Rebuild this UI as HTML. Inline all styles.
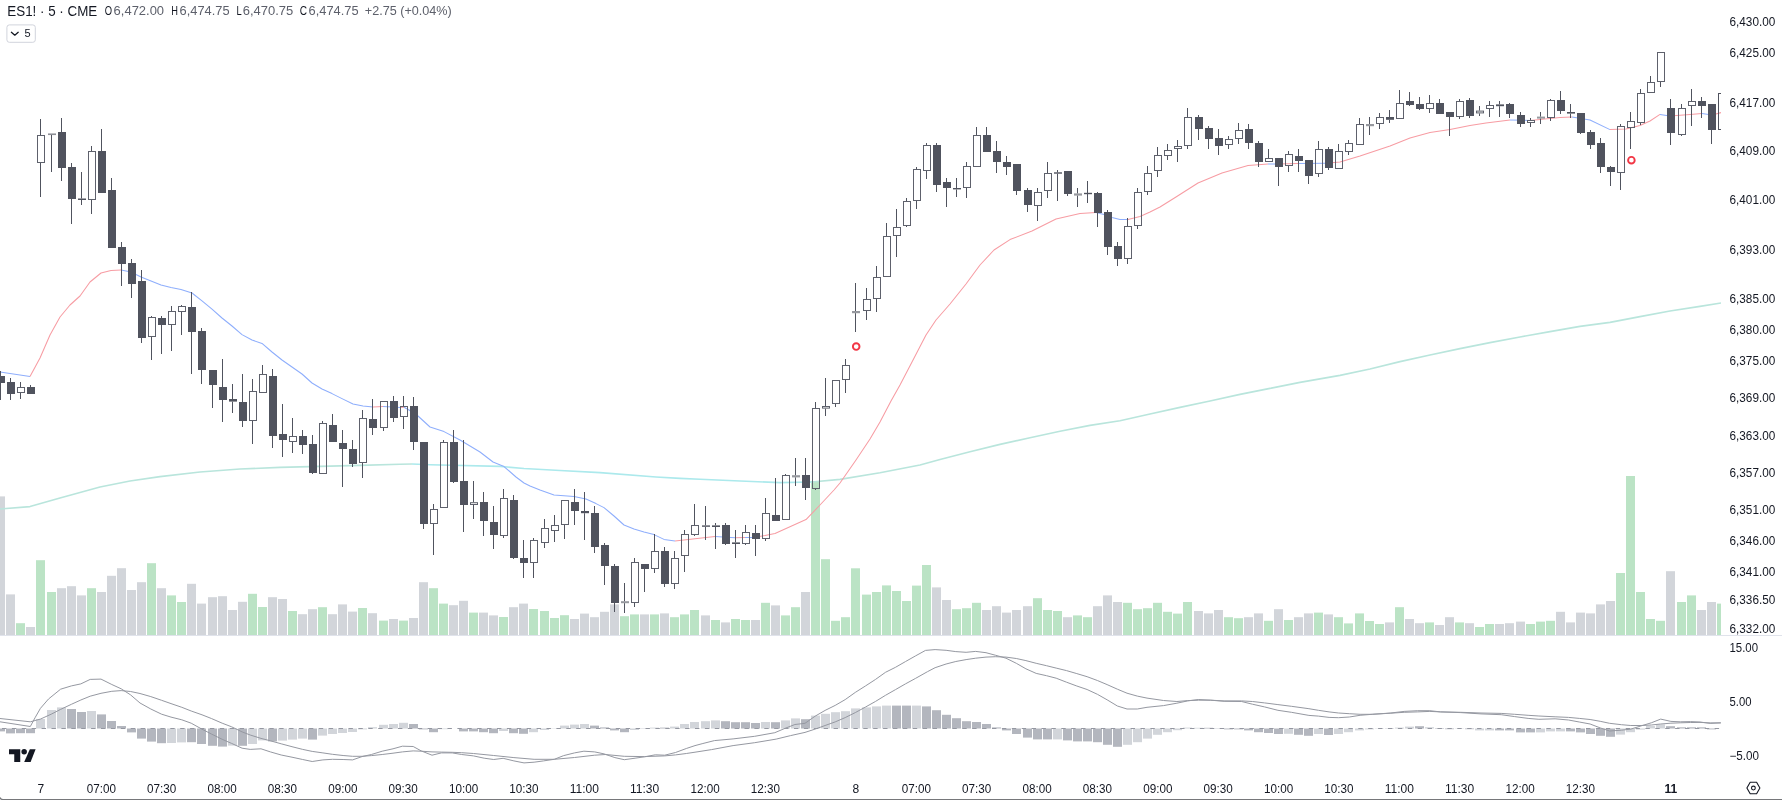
<!DOCTYPE html>
<html><head><meta charset="utf-8"><title>ES1! chart</title>
<style>html,body{margin:0;padding:0;background:#fff;overflow:hidden}svg{display:block;will-change:transform}</style></head>
<body>
<svg width="1782" height="800" viewBox="0 0 1782 800">
<defs><clipPath id="cp"><rect x="0" y="0" width="1721" height="800"/></clipPath></defs>
<rect width="1782" height="800" fill="#fff"/>
<g clip-path="url(#cp)">
<g>
<rect x="-4" y="496.4" width="9" height="138.8" fill="#d2d5da"/>
<rect x="6" y="594.4" width="9" height="40.8" fill="#d2d5da"/>
<rect x="16" y="623.2" width="9" height="12" fill="#bbe3c5"/>
<rect x="26" y="627" width="9" height="8.2" fill="#d2d5da"/>
<rect x="36" y="560.2" width="9" height="75" fill="#bbe3c5"/>
<rect x="47" y="592" width="9" height="43.2" fill="#bbe3c5"/>
<rect x="57" y="588.2" width="9" height="47" fill="#d2d5da"/>
<rect x="67" y="586.2" width="9" height="49" fill="#d2d5da"/>
<rect x="77" y="595.4" width="9" height="39.8" fill="#d2d5da"/>
<rect x="87" y="588.2" width="9" height="47" fill="#bbe3c5"/>
<rect x="97" y="592" width="9" height="43.2" fill="#d2d5da"/>
<rect x="107" y="575.8" width="9" height="59.4" fill="#d2d5da"/>
<rect x="117" y="568.2" width="9" height="67" fill="#d2d5da"/>
<rect x="127" y="590" width="9" height="45.2" fill="#d2d5da"/>
<rect x="137" y="582.2" width="9" height="53" fill="#d2d5da"/>
<rect x="147" y="563.2" width="9" height="72" fill="#bbe3c5"/>
<rect x="157" y="588.2" width="9" height="47" fill="#d2d5da"/>
<rect x="167" y="595.4" width="9" height="39.8" fill="#bbe3c5"/>
<rect x="177" y="602" width="9" height="33.2" fill="#bbe3c5"/>
<rect x="187" y="583.8" width="9" height="51.4" fill="#d2d5da"/>
<rect x="197" y="603.6" width="9" height="31.6" fill="#d2d5da"/>
<rect x="208" y="597.2" width="9" height="38" fill="#d2d5da"/>
<rect x="218" y="596.2" width="9" height="39" fill="#d2d5da"/>
<rect x="228" y="610" width="9" height="25.2" fill="#d2d5da"/>
<rect x="238" y="601.8" width="9" height="33.4" fill="#d2d5da"/>
<rect x="248" y="593.8" width="9" height="41.4" fill="#bbe3c5"/>
<rect x="258" y="607" width="9" height="28.2" fill="#bbe3c5"/>
<rect x="268" y="597.2" width="9" height="38" fill="#d2d5da"/>
<rect x="278" y="599" width="9" height="36.2" fill="#d2d5da"/>
<rect x="288" y="611" width="9" height="24.2" fill="#bbe3c5"/>
<rect x="298" y="614.2" width="9" height="21" fill="#d2d5da"/>
<rect x="308" y="609.2" width="9" height="26" fill="#d2d5da"/>
<rect x="318" y="607.2" width="9" height="28" fill="#bbe3c5"/>
<rect x="328" y="614.2" width="9" height="21" fill="#d2d5da"/>
<rect x="338" y="604.4" width="9" height="30.8" fill="#d2d5da"/>
<rect x="348" y="611.6" width="9" height="23.6" fill="#d2d5da"/>
<rect x="358" y="608" width="9" height="27.2" fill="#bbe3c5"/>
<rect x="368" y="613.2" width="9" height="22" fill="#d2d5da"/>
<rect x="379" y="620.6" width="9" height="14.6" fill="#bbe3c5"/>
<rect x="389" y="619" width="9" height="16.2" fill="#d2d5da"/>
<rect x="399" y="620.6" width="9" height="14.6" fill="#bbe3c5"/>
<rect x="409" y="618" width="9" height="17.2" fill="#d2d5da"/>
<rect x="419" y="582.2" width="9" height="53" fill="#d2d5da"/>
<rect x="429" y="588.2" width="9" height="47" fill="#bbe3c5"/>
<rect x="439" y="603.6" width="9" height="31.6" fill="#bbe3c5"/>
<rect x="449" y="605.2" width="9" height="30" fill="#d2d5da"/>
<rect x="459" y="600.8" width="9" height="34.4" fill="#d2d5da"/>
<rect x="469" y="612.6" width="9" height="22.6" fill="#bbe3c5"/>
<rect x="479" y="612.6" width="9" height="22.6" fill="#d2d5da"/>
<rect x="489" y="615.4" width="9" height="19.8" fill="#d2d5da"/>
<rect x="499" y="617" width="9" height="18.2" fill="#bbe3c5"/>
<rect x="509" y="607.2" width="9" height="28" fill="#d2d5da"/>
<rect x="519" y="603.6" width="9" height="31.6" fill="#d2d5da"/>
<rect x="529" y="609" width="9" height="26.2" fill="#bbe3c5"/>
<rect x="540" y="611" width="9" height="24.2" fill="#bbe3c5"/>
<rect x="550" y="618" width="9" height="17.2" fill="#bbe3c5"/>
<rect x="560" y="615.2" width="9" height="20" fill="#bbe3c5"/>
<rect x="570" y="619" width="9" height="16.2" fill="#d2d5da"/>
<rect x="580" y="613.6" width="9" height="21.6" fill="#d2d5da"/>
<rect x="590" y="617.2" width="9" height="18" fill="#d2d5da"/>
<rect x="600" y="611.8" width="9" height="23.4" fill="#d2d5da"/>
<rect x="610" y="604.4" width="9" height="30.8" fill="#d2d5da"/>
<rect x="620" y="616.2" width="9" height="19" fill="#bbe3c5"/>
<rect x="630" y="614.4" width="9" height="20.8" fill="#bbe3c5"/>
<rect x="640" y="614.4" width="9" height="20.8" fill="#d2d5da"/>
<rect x="650" y="614.4" width="9" height="20.8" fill="#bbe3c5"/>
<rect x="660" y="613.4" width="9" height="21.8" fill="#d2d5da"/>
<rect x="670" y="617.2" width="9" height="18" fill="#bbe3c5"/>
<rect x="680" y="614.4" width="9" height="20.8" fill="#bbe3c5"/>
<rect x="690" y="610" width="9" height="25.2" fill="#bbe3c5"/>
<rect x="701" y="615.4" width="9" height="19.8" fill="#d2d5da"/>
<rect x="711" y="620" width="9" height="15.2" fill="#bbe3c5"/>
<rect x="721" y="622.4" width="9" height="12.8" fill="#d2d5da"/>
<rect x="731" y="619" width="9" height="16.2" fill="#bbe3c5"/>
<rect x="741" y="620" width="9" height="15.2" fill="#bbe3c5"/>
<rect x="751" y="620" width="9" height="15.2" fill="#d2d5da"/>
<rect x="761" y="602.8" width="9" height="32.4" fill="#bbe3c5"/>
<rect x="771" y="605.4" width="9" height="29.8" fill="#d2d5da"/>
<rect x="781" y="615.4" width="9" height="19.8" fill="#bbe3c5"/>
<rect x="791" y="607.2" width="9" height="28" fill="#bbe3c5"/>
<rect x="801" y="592" width="9" height="43.2" fill="#d2d5da"/>
<rect x="811" y="481" width="9" height="154.2" fill="#bbe3c5"/>
<rect x="821" y="559.2" width="9" height="76" fill="#bbe3c5"/>
<rect x="831" y="620.8" width="9" height="14.4" fill="#bbe3c5"/>
<rect x="841" y="617.2" width="9" height="18" fill="#bbe3c5"/>
<rect x="851" y="568.3" width="9" height="66.9" fill="#bbe3c5"/>
<rect x="862" y="594.6" width="9" height="40.6" fill="#bbe3c5"/>
<rect x="872" y="592" width="9" height="43.2" fill="#bbe3c5"/>
<rect x="882" y="585.4" width="9" height="49.8" fill="#bbe3c5"/>
<rect x="892" y="591" width="9" height="44.2" fill="#bbe3c5"/>
<rect x="902" y="601" width="9" height="34.2" fill="#bbe3c5"/>
<rect x="912" y="585.6" width="9" height="49.6" fill="#bbe3c5"/>
<rect x="922" y="565" width="9" height="70.2" fill="#bbe3c5"/>
<rect x="932" y="587.4" width="9" height="47.8" fill="#d2d5da"/>
<rect x="942" y="600" width="9" height="35.2" fill="#d2d5da"/>
<rect x="952" y="609.2" width="9" height="26" fill="#bbe3c5"/>
<rect x="962" y="608.2" width="9" height="27" fill="#bbe3c5"/>
<rect x="972" y="602.8" width="9" height="32.4" fill="#bbe3c5"/>
<rect x="982" y="610" width="9" height="25.2" fill="#d2d5da"/>
<rect x="992" y="606.2" width="9" height="29" fill="#d2d5da"/>
<rect x="1002" y="612.6" width="9" height="22.6" fill="#d2d5da"/>
<rect x="1012" y="610" width="9" height="25.2" fill="#d2d5da"/>
<rect x="1023" y="606.2" width="9" height="29" fill="#d2d5da"/>
<rect x="1033" y="598.2" width="9" height="37" fill="#bbe3c5"/>
<rect x="1043" y="610" width="9" height="25.2" fill="#bbe3c5"/>
<rect x="1053" y="611" width="9" height="24.2" fill="#bbe3c5"/>
<rect x="1063" y="617.2" width="9" height="18" fill="#d2d5da"/>
<rect x="1073" y="615.4" width="9" height="19.8" fill="#bbe3c5"/>
<rect x="1083" y="617.2" width="9" height="18" fill="#bbe3c5"/>
<rect x="1093" y="606.2" width="9" height="29" fill="#d2d5da"/>
<rect x="1103" y="595.4" width="9" height="39.8" fill="#d2d5da"/>
<rect x="1113" y="602" width="9" height="33.2" fill="#d2d5da"/>
<rect x="1123" y="602.8" width="9" height="32.4" fill="#bbe3c5"/>
<rect x="1133" y="609.2" width="9" height="26" fill="#bbe3c5"/>
<rect x="1143" y="608.2" width="9" height="27" fill="#bbe3c5"/>
<rect x="1153" y="602.8" width="9" height="32.4" fill="#bbe3c5"/>
<rect x="1163" y="611.8" width="9" height="23.4" fill="#bbe3c5"/>
<rect x="1173" y="613.6" width="9" height="21.6" fill="#bbe3c5"/>
<rect x="1183" y="602" width="9" height="33.2" fill="#bbe3c5"/>
<rect x="1194" y="611" width="9" height="24.2" fill="#d2d5da"/>
<rect x="1204" y="613.4" width="9" height="21.8" fill="#d2d5da"/>
<rect x="1214" y="610" width="9" height="25.2" fill="#d2d5da"/>
<rect x="1224" y="617.2" width="9" height="18" fill="#bbe3c5"/>
<rect x="1234" y="618.2" width="9" height="17" fill="#bbe3c5"/>
<rect x="1244" y="617.2" width="9" height="18" fill="#d2d5da"/>
<rect x="1254" y="613.4" width="9" height="21.8" fill="#d2d5da"/>
<rect x="1264" y="620.8" width="9" height="14.4" fill="#bbe3c5"/>
<rect x="1274" y="609.2" width="9" height="26" fill="#d2d5da"/>
<rect x="1284" y="620" width="9" height="15.2" fill="#bbe3c5"/>
<rect x="1294" y="617.2" width="9" height="18" fill="#d2d5da"/>
<rect x="1304" y="613.4" width="9" height="21.8" fill="#d2d5da"/>
<rect x="1314" y="612.6" width="9" height="22.6" fill="#bbe3c5"/>
<rect x="1324" y="614.4" width="9" height="20.8" fill="#d2d5da"/>
<rect x="1334" y="617.2" width="9" height="18" fill="#bbe3c5"/>
<rect x="1344" y="623.4" width="9" height="11.8" fill="#bbe3c5"/>
<rect x="1355" y="613.4" width="9" height="21.8" fill="#bbe3c5"/>
<rect x="1365" y="621" width="9" height="14.2" fill="#bbe3c5"/>
<rect x="1375" y="624" width="9" height="11.2" fill="#bbe3c5"/>
<rect x="1385" y="622.4" width="9" height="12.8" fill="#d2d5da"/>
<rect x="1395" y="607.2" width="9" height="28" fill="#bbe3c5"/>
<rect x="1405" y="619" width="9" height="16.2" fill="#d2d5da"/>
<rect x="1415" y="623.2" width="9" height="12" fill="#d2d5da"/>
<rect x="1425" y="622.4" width="9" height="12.8" fill="#bbe3c5"/>
<rect x="1435" y="625" width="9" height="10.2" fill="#d2d5da"/>
<rect x="1445" y="617.2" width="9" height="18" fill="#d2d5da"/>
<rect x="1455" y="622.4" width="9" height="12.8" fill="#bbe3c5"/>
<rect x="1465" y="623.2" width="9" height="12" fill="#d2d5da"/>
<rect x="1475" y="627" width="9" height="8.2" fill="#bbe3c5"/>
<rect x="1485" y="624" width="9" height="11.2" fill="#bbe3c5"/>
<rect x="1495" y="624" width="9" height="11.2" fill="#d2d5da"/>
<rect x="1505" y="623.2" width="9" height="12" fill="#d2d5da"/>
<rect x="1516" y="621.6" width="9" height="13.6" fill="#d2d5da"/>
<rect x="1526" y="624" width="9" height="11.2" fill="#bbe3c5"/>
<rect x="1536" y="621.6" width="9" height="13.6" fill="#bbe3c5"/>
<rect x="1546" y="620.8" width="9" height="14.4" fill="#bbe3c5"/>
<rect x="1556" y="611.8" width="9" height="23.4" fill="#d2d5da"/>
<rect x="1566" y="622.4" width="9" height="12.8" fill="#d2d5da"/>
<rect x="1576" y="612.6" width="9" height="22.6" fill="#d2d5da"/>
<rect x="1586" y="613.4" width="9" height="21.8" fill="#d2d5da"/>
<rect x="1596" y="604.4" width="9" height="30.8" fill="#d2d5da"/>
<rect x="1606" y="601" width="9" height="34.2" fill="#d2d5da"/>
<rect x="1616" y="573" width="9" height="62.2" fill="#bbe3c5"/>
<rect x="1626" y="476" width="9" height="159.2" fill="#bbe3c5"/>
<rect x="1636" y="592" width="9" height="43.2" fill="#bbe3c5"/>
<rect x="1646" y="619" width="9" height="16.2" fill="#bbe3c5"/>
<rect x="1656" y="620.8" width="9" height="14.4" fill="#bbe3c5"/>
<rect x="1666" y="571.2" width="9" height="64" fill="#d2d5da"/>
<rect x="1677" y="602" width="9" height="33.2" fill="#bbe3c5"/>
<rect x="1687" y="595.4" width="9" height="39.8" fill="#bbe3c5"/>
<rect x="1697" y="610" width="9" height="25.2" fill="#d2d5da"/>
<rect x="1707" y="602" width="9" height="33.2" fill="#d2d5da"/>
<rect x="1717" y="603.6" width="9" height="31.6" fill="#bbe3c5"/>
</g>
<polyline fill="none" stroke="#b9e5dc" stroke-width="1.6" stroke-linejoin="round" points="0,509 30,506.6 60,498 100,487 130,481 160,476.6 200,472 240,469 280,467.4 320,466.4 360,465.4 400,464.2 412,464"/>
<polyline fill="none" stroke="#ace9ec" stroke-width="1.6" stroke-linejoin="round" points="412,464 430,464.8 500,466.4 524,468.5 560,470.5 600,472.6 656,477 680,478.4 700,479.2 740,481 780,482.6 812,482"/>
<polyline fill="none" stroke="#b9e5dc" stroke-width="1.6" stroke-linejoin="round" points="812,482 840,479.4 880,472.8 920,465 940,459.6 970,451.8 1000,444.4 1030,437.8 1060,431.2 1090,425.4 1120,420.8 1150,414 1180,407.4 1210,401 1240,394.4 1270,388.4 1300,382.4 1340,375.4 1370,369 1400,361.6 1430,355 1460,348.6 1490,342.6 1520,337 1550,331.6 1580,326.4 1610,322.4 1640,316.6 1670,311 1700,306.4 1721,303"/>
<polyline fill="none" stroke="#8eaefc" stroke-width="1.05" stroke-linejoin="round" points="0,372 30,376.6"/>
<polyline fill="none" stroke="#f79ca3" stroke-width="1.05" stroke-linejoin="round" points="30,376.6 40,358 50,335 60,317 70,305 80,296 90,282 101,273 111,270.6 121,270"/>
<polyline fill="none" stroke="#8eaefc" stroke-width="1.05" stroke-linejoin="round" points="121,270 131,272 141,277 151,281 161,285 171,287.4 181,289.4 192,293 202,300.9 212,309.2 222,318 232,326 242,334.6 252,340 262,343.4 272,352 282,360 292,367 302,374 312,383 322,389 332,393.6 342,398.6 353,404 363,406 373,407"/>
<polyline fill="none" stroke="#f79ca3" stroke-width="1.05" stroke-linejoin="round" points="373,407 383,406.6"/>
<polyline fill="none" stroke="#8eaefc" stroke-width="1.05" stroke-linejoin="round" points="383,406.6 393,407 400,407.4"/>
<polyline fill="none" stroke="#f79ca3" stroke-width="1.05" stroke-linejoin="round" points="400,407.4 404,407.2"/>
<polyline fill="none" stroke="#8eaefc" stroke-width="1.05" stroke-linejoin="round" points="404,407.2 409,410 418,416 430,427 444,431.6 460,440 480,452 493,462 504,466.6 516,477 524,483 530,486 540,490 554,495 574,496.5 586,499 596,503.6 604,507.6 614,516 624,525 634,529 644,532 654,534.6 664,539.4 675,541"/>
<polyline fill="none" stroke="#f79ca3" stroke-width="1.05" stroke-linejoin="round" points="675,541 695,538.8 715,536.5"/>
<polyline fill="none" stroke="#8eaefc" stroke-width="1.05" stroke-linejoin="round" points="715,536.5 735,537.8"/>
<polyline fill="none" stroke="#f79ca3" stroke-width="1.05" stroke-linejoin="round" points="735,537.8 745,537.4"/>
<polyline fill="none" stroke="#8eaefc" stroke-width="1.05" stroke-linejoin="round" points="745,537.4 752,537.6"/>
<polyline fill="none" stroke="#f79ca3" stroke-width="1.05" stroke-linejoin="round" points="752,537.6 765,535.5 775,533.5 806,519.6 820,505 834,490 840,483 856,460 870,439 880,422 891,401 900,385 912,362 926,335 936,320 950,304 966,284 980,265 994,250 1010,239.6 1032,231 1056,219 1080,213.6 1096,212.4"/>
<polyline fill="none" stroke="#8eaefc" stroke-width="1.05" stroke-linejoin="round" points="1096,212.4 1106,215 1112,217.6 1120,219.4 1128,219.4"/>
<polyline fill="none" stroke="#f79ca3" stroke-width="1.05" stroke-linejoin="round" points="1128,219.4 1140,216.4 1150,212 1160,207 1176,197 1198,183 1222,173 1248,165.6 1268,164"/>
<polyline fill="none" stroke="#8eaefc" stroke-width="1.05" stroke-linejoin="round" points="1268,164 1278,164"/>
<polyline fill="none" stroke="#f79ca3" stroke-width="1.05" stroke-linejoin="round" points="1278,164 1298,163.6"/>
<polyline fill="none" stroke="#8eaefc" stroke-width="1.05" stroke-linejoin="round" points="1298,163.6 1326,163.2"/>
<polyline fill="none" stroke="#f79ca3" stroke-width="1.05" stroke-linejoin="round" points="1326,163.2 1340,162 1360,156 1390,146 1410,138 1430,132.4 1450,129.5 1470,125.5 1486,123 1510,120"/>
<polyline fill="none" stroke="#8eaefc" stroke-width="1.05" stroke-linejoin="round" points="1510,120 1530,120.4"/>
<polyline fill="none" stroke="#f79ca3" stroke-width="1.05" stroke-linejoin="round" points="1530,120.4 1540,119.6 1560,117.6 1572,117"/>
<polyline fill="none" stroke="#8eaefc" stroke-width="1.05" stroke-linejoin="round" points="1572,117 1590,120 1610,129.6"/>
<polyline fill="none" stroke="#f79ca3" stroke-width="1.05" stroke-linejoin="round" points="1610,129.6 1626,129 1640,125.6 1650,121 1660,114.4"/>
<polyline fill="none" stroke="#8eaefc" stroke-width="1.05" stroke-linejoin="round" points="1660,114.4 1670,116"/>
<polyline fill="none" stroke="#f79ca3" stroke-width="1.05" stroke-linejoin="round" points="1670,116 1690,114.4 1702,113.4"/>
<polyline fill="none" stroke="#8eaefc" stroke-width="1.05" stroke-linejoin="round" points="1702,113.4 1712,115"/>
<polyline fill="none" stroke="#f79ca3" stroke-width="1.05" stroke-linejoin="round" points="1712,115 1721,112.6"/>
<g stroke="#50535e" stroke-width="1" fill="none">
<path d="M0.5 371V376"/>
<path d="M0.5 383V400"/>
<rect x="-3" y="376" width="8" height="7" fill="#50535e" stroke="none"/>
<path d="M10.5 378V382"/>
<path d="M10.5 394V400"/>
<rect x="7" y="382" width="8" height="12" fill="#50535e" stroke="none"/>
<path d="M20.5 382V387"/>
<path d="M20.5 393V399"/>
<rect x="17.5" y="387.5" width="7" height="5" stroke="#5e616c"/>
<path d="M30.5 385V387"/>
<rect x="27" y="387" width="8" height="7" fill="#50535e" stroke="none"/>
<path d="M40.5 119V135"/>
<path d="M40.5 163V197"/>
<rect x="37.5" y="135.5" width="7" height="27" stroke="#5e616c"/>
<path d="M51.5 135V172"/>
<rect x="48" y="133.45" width="8" height="1.6" fill="#50535e" stroke="none" opacity="0.65"/>
<path d="M61.5 118V132"/>
<path d="M61.5 168V181"/>
<rect x="58" y="132" width="8" height="36" fill="#50535e" stroke="none"/>
<path d="M71.5 163V167"/>
<path d="M71.5 199V224"/>
<rect x="68" y="167" width="8" height="32" fill="#50535e" stroke="none"/>
<path d="M81.5 172V198.5"/>
<path d="M81.5 200V205"/>
<rect x="78" y="198.5" width="8" height="1.5" fill="#50535e" stroke="none"/>
<path d="M91.5 146V151"/>
<path d="M91.5 200V214"/>
<rect x="88.5" y="151.5" width="7" height="48" stroke="#5e616c"/>
<path d="M101.5 129V151"/>
<rect x="98" y="151" width="8" height="42" fill="#50535e" stroke="none"/>
<path d="M111.5 178V190"/>
<rect x="108" y="190" width="8" height="58" fill="#50535e" stroke="none"/>
<path d="M121.5 242V247"/>
<path d="M121.5 264V286"/>
<rect x="118" y="247" width="8" height="17" fill="#50535e" stroke="none"/>
<path d="M131.5 259V263"/>
<path d="M131.5 284V298"/>
<rect x="128" y="263" width="8" height="21" fill="#50535e" stroke="none"/>
<path d="M141.5 270V281"/>
<path d="M141.5 338V343"/>
<rect x="138" y="281" width="8" height="57" fill="#50535e" stroke="none"/>
<path d="M151.5 316V317"/>
<path d="M151.5 337V360"/>
<rect x="148.5" y="317.5" width="7" height="19" stroke="#5e616c"/>
<path d="M161.5 316V318"/>
<path d="M161.5 325V354"/>
<rect x="158" y="318" width="8" height="7" fill="#50535e" stroke="none"/>
<path d="M171.5 306V311"/>
<path d="M171.5 325V351"/>
<rect x="168.5" y="311.5" width="7" height="13" stroke="#5e616c"/>
<path d="M181.5 305V306"/>
<path d="M181.5 312V335"/>
<rect x="178.5" y="306.5" width="7" height="5" stroke="#5e616c"/>
<path d="M191.5 292V307"/>
<path d="M191.5 332V374"/>
<rect x="188" y="307" width="8" height="25" fill="#50535e" stroke="none"/>
<path d="M201.5 328V331"/>
<path d="M201.5 370V384"/>
<rect x="198" y="331" width="8" height="39" fill="#50535e" stroke="none"/>
<path d="M212.5 385V408"/>
<rect x="209" y="370" width="8" height="15" fill="#50535e" stroke="none"/>
<path d="M222.5 359V387"/>
<path d="M222.5 400V422"/>
<rect x="219" y="387" width="8" height="13" fill="#50535e" stroke="none"/>
<path d="M232.5 384V399"/>
<path d="M232.5 401.6V413"/>
<rect x="229" y="399" width="8" height="2.6" fill="#50535e" stroke="none"/>
<path d="M242.5 374V402"/>
<path d="M242.5 421V427"/>
<rect x="239" y="402" width="8" height="19" fill="#50535e" stroke="none"/>
<path d="M252.5 379V391"/>
<path d="M252.5 421V444"/>
<rect x="249.5" y="391.5" width="7" height="29" stroke="#5e616c"/>
<path d="M262.5 365V374"/>
<rect x="259.5" y="374.5" width="7" height="18" stroke="#5e616c"/>
<path d="M272.5 369V376"/>
<path d="M272.5 436V448"/>
<rect x="269" y="376" width="8" height="60" fill="#50535e" stroke="none"/>
<path d="M282.5 404V434"/>
<path d="M282.5 440V457"/>
<rect x="279" y="434" width="8" height="6" fill="#50535e" stroke="none"/>
<path d="M292.5 418V436"/>
<path d="M292.5 442V453"/>
<rect x="289.5" y="436.5" width="7" height="5" stroke="#5e616c"/>
<path d="M302.5 430V436"/>
<path d="M302.5 445V454"/>
<rect x="299" y="436" width="8" height="9" fill="#50535e" stroke="none"/>
<path d="M312.5 435V444"/>
<path d="M312.5 473V474"/>
<rect x="309" y="444" width="8" height="29" fill="#50535e" stroke="none"/>
<path d="M322.5 421V423"/>
<rect x="319.5" y="423.5" width="7" height="50" stroke="#5e616c"/>
<path d="M332.5 414V425"/>
<rect x="329" y="425" width="8" height="17" fill="#50535e" stroke="none"/>
<path d="M342.5 430V443"/>
<path d="M342.5 449V487"/>
<rect x="339" y="443" width="8" height="6" fill="#50535e" stroke="none"/>
<path d="M352.5 440V449"/>
<path d="M352.5 464V467"/>
<rect x="349" y="449" width="8" height="15" fill="#50535e" stroke="none"/>
<path d="M362.5 410V418"/>
<path d="M362.5 463V478"/>
<rect x="359.5" y="418.5" width="7" height="44" stroke="#5e616c"/>
<path d="M372.5 399V419"/>
<path d="M372.5 428V435"/>
<rect x="369" y="419" width="8" height="9" fill="#50535e" stroke="none"/>
<path d="M383.5 428V431"/>
<rect x="380.5" y="401.5" width="7" height="26" stroke="#5e616c"/>
<path d="M393.5 396V401"/>
<path d="M393.5 418V422"/>
<rect x="390" y="401" width="8" height="17" fill="#50535e" stroke="none"/>
<path d="M403.5 396V406"/>
<path d="M403.5 417V429"/>
<rect x="400.5" y="406.5" width="7" height="10" stroke="#5e616c"/>
<path d="M413.5 397V406"/>
<path d="M413.5 442V450"/>
<rect x="410" y="406" width="8" height="36" fill="#50535e" stroke="none"/>
<path d="M423.5 524V529"/>
<rect x="420" y="442" width="8" height="82" fill="#50535e" stroke="none"/>
<path d="M433.5 504V509"/>
<path d="M433.5 524V555"/>
<rect x="430.5" y="509.5" width="7" height="14" stroke="#5e616c"/>
<path d="M443.5 440V442"/>
<rect x="440.5" y="442.5" width="7" height="65" stroke="#5e616c"/>
<path d="M453.5 430V442"/>
<path d="M453.5 482V483"/>
<rect x="450" y="442" width="8" height="40" fill="#50535e" stroke="none"/>
<path d="M463.5 440V481"/>
<path d="M463.5 505V532"/>
<rect x="460" y="481" width="8" height="24" fill="#50535e" stroke="none"/>
<path d="M473.5 481V502.2"/>
<path d="M473.5 505V519"/>
<rect x="470.5" y="502.7" width="7" height="1.8" stroke="#5e616c"/>
<path d="M483.5 492V502"/>
<path d="M483.5 521V536"/>
<rect x="480" y="502" width="8" height="19" fill="#50535e" stroke="none"/>
<path d="M493.5 506V522"/>
<path d="M493.5 535V549"/>
<rect x="490" y="522" width="8" height="13" fill="#50535e" stroke="none"/>
<path d="M503.5 489V498"/>
<path d="M503.5 536V538"/>
<rect x="500.5" y="498.5" width="7" height="37" stroke="#5e616c"/>
<path d="M513.5 495V500"/>
<path d="M513.5 558V559"/>
<rect x="510" y="500" width="8" height="58" fill="#50535e" stroke="none"/>
<path d="M523.5 540V558"/>
<path d="M523.5 563V578"/>
<rect x="520" y="558" width="8" height="5" fill="#50535e" stroke="none"/>
<path d="M533.5 538V540"/>
<path d="M533.5 563V578"/>
<rect x="530.5" y="540.5" width="7" height="22" stroke="#5e616c"/>
<path d="M544.5 519V528"/>
<path d="M544.5 543V548"/>
<rect x="541.5" y="528.5" width="7" height="14" stroke="#5e616c"/>
<path d="M554.5 515V525"/>
<path d="M554.5 531V542"/>
<rect x="551.5" y="525.5" width="7" height="5" stroke="#5e616c"/>
<path d="M564.5 525V539"/>
<rect x="561.5" y="500.5" width="7" height="24" stroke="#5e616c"/>
<path d="M574.5 489V502"/>
<path d="M574.5 511V525"/>
<rect x="571" y="502" width="8" height="9" fill="#50535e" stroke="none"/>
<path d="M584.5 492V511"/>
<path d="M584.5 513.2V540"/>
<rect x="581" y="511" width="8" height="2.2" fill="#50535e" stroke="none"/>
<path d="M594.5 506V513"/>
<path d="M594.5 547V553"/>
<rect x="591" y="513" width="8" height="34" fill="#50535e" stroke="none"/>
<path d="M604.5 543V545"/>
<path d="M604.5 566V585"/>
<rect x="601" y="545" width="8" height="21" fill="#50535e" stroke="none"/>
<path d="M614.5 564V566"/>
<path d="M614.5 603V612"/>
<rect x="611" y="566" width="8" height="37" fill="#50535e" stroke="none"/>
<path d="M624.5 583V601.2"/>
<path d="M624.5 603.2V613"/>
<rect x="621" y="601.2" width="8" height="2" fill="#50535e" stroke="none" opacity="0.6"/>
<path d="M634.5 558V562"/>
<path d="M634.5 603V607"/>
<rect x="631.5" y="562.5" width="7" height="40" stroke="#5e616c"/>
<path d="M644.5 569V592"/>
<rect x="641" y="564" width="8" height="5" fill="#50535e" stroke="none"/>
<path d="M654.5 534V551"/>
<path d="M654.5 569V573"/>
<rect x="651.5" y="551.5" width="7" height="17" stroke="#5e616c"/>
<path d="M664.5 547V551"/>
<path d="M664.5 584V587"/>
<rect x="661" y="551" width="8" height="33" fill="#50535e" stroke="none"/>
<path d="M674.5 551V558"/>
<path d="M674.5 584V589"/>
<rect x="671.5" y="558.5" width="7" height="25" stroke="#5e616c"/>
<path d="M684.5 530V534"/>
<path d="M684.5 556V572"/>
<rect x="681.5" y="534.5" width="7" height="21" stroke="#5e616c"/>
<path d="M694.5 504V525"/>
<path d="M694.5 535V536"/>
<rect x="691.5" y="525.5" width="7" height="9" stroke="#5e616c"/>
<path d="M705.5 506V525.4"/>
<path d="M705.5 526.8V540"/>
<rect x="702" y="525.4" width="8" height="1.4" fill="#50535e" stroke="none"/>
<path d="M715.5 523V525.4"/>
<path d="M715.5 527V549"/>
<rect x="712" y="525.4" width="8" height="1.6" fill="#50535e" stroke="none"/>
<path d="M725.5 523V525"/>
<path d="M725.5 544V545"/>
<rect x="722" y="525" width="8" height="19" fill="#50535e" stroke="none"/>
<path d="M735.5 530V542.4"/>
<path d="M735.5 544V558"/>
<rect x="732" y="542.4" width="8" height="1.6" fill="#50535e" stroke="none"/>
<path d="M745.5 525V532"/>
<path d="M745.5 544V545"/>
<rect x="742.5" y="532.5" width="7" height="11" stroke="#5e616c"/>
<path d="M755.5 525V533"/>
<path d="M755.5 539V556"/>
<rect x="752" y="533" width="8" height="6" fill="#50535e" stroke="none"/>
<path d="M765.5 498V513"/>
<path d="M765.5 539V541"/>
<rect x="762.5" y="513.5" width="7" height="25" stroke="#5e616c"/>
<path d="M775.5 478V515"/>
<rect x="772" y="515" width="8" height="6" fill="#50535e" stroke="none"/>
<path d="M785.5 474V475"/>
<rect x="782.5" y="475.5" width="7" height="44" stroke="#5e616c"/>
<path d="M795.5 458V475.2"/>
<path d="M795.5 477.4V486"/>
<rect x="792" y="475.2" width="8" height="2.2" fill="#50535e" stroke="none" opacity="0.6"/>
<path d="M805.5 458V475"/>
<path d="M805.5 488V500"/>
<rect x="802" y="475" width="8" height="13" fill="#50535e" stroke="none"/>
<path d="M815.5 402V408"/>
<path d="M815.5 489V490"/>
<rect x="812.5" y="408.5" width="7" height="80" stroke="#5e616c"/>
<path d="M825.5 378V406"/>
<path d="M825.5 408.6V416"/>
<rect x="822.5" y="406.5" width="7" height="1.6" stroke="#5e616c"/>
<path d="M835.5 404V407"/>
<rect x="832.5" y="380.5" width="7" height="23" stroke="#5e616c"/>
<path d="M845.5 359V365"/>
<path d="M845.5 380V393"/>
<rect x="842.5" y="365.5" width="7" height="14" stroke="#5e616c"/>
<path d="M855.5 283V311"/>
<path d="M855.5 313.2V332"/>
<rect x="852" y="311" width="8" height="2.2" fill="#50535e" stroke="none" opacity="0.6"/>
<path d="M866.5 288V299"/>
<path d="M866.5 311V320"/>
<rect x="863.5" y="299.5" width="7" height="11" stroke="#5e616c"/>
<path d="M876.5 266V277"/>
<path d="M876.5 299V312"/>
<rect x="873.5" y="277.5" width="7" height="21" stroke="#5e616c"/>
<path d="M886.5 223V236"/>
<rect x="883.5" y="236.5" width="7" height="40" stroke="#5e616c"/>
<path d="M896.5 209V227"/>
<path d="M896.5 236V257"/>
<rect x="893.5" y="227.5" width="7" height="8" stroke="#5e616c"/>
<path d="M906.5 198V201"/>
<path d="M906.5 226V227"/>
<rect x="903.5" y="201.5" width="7" height="24" stroke="#5e616c"/>
<path d="M916.5 167V169"/>
<path d="M916.5 201V209"/>
<rect x="913.5" y="169.5" width="7" height="31" stroke="#5e616c"/>
<path d="M926.5 143V145"/>
<path d="M926.5 171V179"/>
<rect x="923.5" y="145.5" width="7" height="25" stroke="#5e616c"/>
<path d="M936.5 143V145"/>
<path d="M936.5 185V192"/>
<rect x="933" y="145" width="8" height="40" fill="#50535e" stroke="none"/>
<path d="M946.5 178V182"/>
<path d="M946.5 188V207"/>
<rect x="943" y="182" width="8" height="6" fill="#50535e" stroke="none"/>
<path d="M956.5 178V188"/>
<path d="M956.5 189.4V197"/>
<rect x="953" y="188" width="8" height="1.4" fill="#50535e" stroke="none"/>
<path d="M966.5 162V166"/>
<path d="M966.5 188V198"/>
<rect x="963.5" y="166.5" width="7" height="21" stroke="#5e616c"/>
<path d="M976.5 127V135"/>
<rect x="973.5" y="135.5" width="7" height="31" stroke="#5e616c"/>
<path d="M986.5 127V135"/>
<rect x="983" y="135" width="8" height="17" fill="#50535e" stroke="none"/>
<path d="M996.5 141V151"/>
<path d="M996.5 162V173"/>
<rect x="993" y="151" width="8" height="11" fill="#50535e" stroke="none"/>
<path d="M1006.5 156V162"/>
<path d="M1006.5 167V175"/>
<rect x="1003" y="162" width="8" height="5" fill="#50535e" stroke="none"/>
<path d="M1016.5 191V195"/>
<rect x="1013" y="164" width="8" height="27" fill="#50535e" stroke="none"/>
<path d="M1027.5 188V190"/>
<path d="M1027.5 205V212"/>
<rect x="1024" y="190" width="8" height="15" fill="#50535e" stroke="none"/>
<path d="M1037.5 188V192"/>
<path d="M1037.5 206V221"/>
<rect x="1034.5" y="192.5" width="7" height="13" stroke="#5e616c"/>
<path d="M1047.5 162V173"/>
<path d="M1047.5 191V198"/>
<rect x="1044.5" y="173.5" width="7" height="17" stroke="#5e616c"/>
<path d="M1057.5 170V172.4"/>
<path d="M1057.5 173.6V201"/>
<rect x="1054" y="172.3" width="8" height="1.4" fill="#50535e" stroke="none"/>
<path d="M1067.5 194V196"/>
<rect x="1064" y="171" width="8" height="23" fill="#50535e" stroke="none"/>
<path d="M1077.5 188V193.4"/>
<path d="M1077.5 195.6V207"/>
<rect x="1074" y="193.4" width="8" height="2.2" fill="#50535e" stroke="none" opacity="0.6"/>
<path d="M1087.5 181V193"/>
<path d="M1087.5 194V203"/>
<rect x="1084" y="192.8" width="8" height="1.4" fill="#50535e" stroke="none"/>
<path d="M1097.5 192V193"/>
<path d="M1097.5 213V227"/>
<rect x="1094" y="193" width="8" height="20" fill="#50535e" stroke="none"/>
<path d="M1107.5 210V212"/>
<path d="M1107.5 247V255"/>
<rect x="1104" y="212" width="8" height="35" fill="#50535e" stroke="none"/>
<path d="M1117.5 242V246"/>
<path d="M1117.5 259V266"/>
<rect x="1114" y="246" width="8" height="13" fill="#50535e" stroke="none"/>
<path d="M1127.5 218V226"/>
<path d="M1127.5 259V264"/>
<rect x="1124.5" y="226.5" width="7" height="32" stroke="#5e616c"/>
<path d="M1137.5 188V192"/>
<path d="M1137.5 226V229"/>
<rect x="1134.5" y="192.5" width="7" height="33" stroke="#5e616c"/>
<path d="M1147.5 166V173"/>
<path d="M1147.5 192V195"/>
<rect x="1144.5" y="173.5" width="7" height="18" stroke="#5e616c"/>
<path d="M1157.5 147V155"/>
<path d="M1157.5 171V177"/>
<rect x="1154.5" y="155.5" width="7" height="15" stroke="#5e616c"/>
<path d="M1167.5 144V150"/>
<path d="M1167.5 156V160"/>
<rect x="1164.5" y="150.5" width="7" height="5" stroke="#5e616c"/>
<path d="M1177.5 140V146"/>
<path d="M1177.5 149V162"/>
<rect x="1174.5" y="146.5" width="7" height="2" stroke="#5e616c"/>
<path d="M1187.5 108V117"/>
<path d="M1187.5 146V149"/>
<rect x="1184.5" y="117.5" width="7" height="28" stroke="#5e616c"/>
<path d="M1198.5 115V117"/>
<path d="M1198.5 129V140"/>
<rect x="1195" y="117" width="8" height="12" fill="#50535e" stroke="none"/>
<path d="M1208.5 126V128"/>
<path d="M1208.5 139V149"/>
<rect x="1205" y="128" width="8" height="11" fill="#50535e" stroke="none"/>
<path d="M1218.5 129V138"/>
<path d="M1218.5 146V155"/>
<rect x="1215" y="138" width="8" height="8" fill="#50535e" stroke="none"/>
<path d="M1228.5 136V139"/>
<path d="M1228.5 145V149"/>
<rect x="1225.5" y="139.5" width="7" height="5" stroke="#5e616c"/>
<path d="M1238.5 123V130"/>
<path d="M1238.5 139V144"/>
<rect x="1235.5" y="130.5" width="7" height="8" stroke="#5e616c"/>
<path d="M1248.5 124V129"/>
<path d="M1248.5 143V149"/>
<rect x="1245" y="129" width="8" height="14" fill="#50535e" stroke="none"/>
<path d="M1258.5 141V143"/>
<path d="M1258.5 162V167"/>
<rect x="1255" y="143" width="8" height="19" fill="#50535e" stroke="none"/>
<path d="M1268.5 149V158"/>
<rect x="1265.5" y="158.5" width="7" height="3" stroke="#5e616c"/>
<path d="M1278.5 167V186"/>
<rect x="1275" y="158" width="8" height="9" fill="#50535e" stroke="none"/>
<path d="M1288.5 151V154"/>
<path d="M1288.5 166V172"/>
<rect x="1285.5" y="154.5" width="7" height="11" stroke="#5e616c"/>
<path d="M1298.5 149V156"/>
<path d="M1298.5 161V172"/>
<rect x="1295" y="156" width="8" height="5" fill="#50535e" stroke="none"/>
<path d="M1308.5 176V184"/>
<rect x="1305" y="160" width="8" height="16" fill="#50535e" stroke="none"/>
<path d="M1318.5 141V149"/>
<path d="M1318.5 174V177"/>
<rect x="1315.5" y="149.5" width="7" height="24" stroke="#5e616c"/>
<path d="M1328.5 147V149"/>
<path d="M1328.5 168V170"/>
<rect x="1325" y="149" width="8" height="19" fill="#50535e" stroke="none"/>
<path d="M1338.5 144V151"/>
<rect x="1335.5" y="151.5" width="7" height="17" stroke="#5e616c"/>
<path d="M1348.5 140V143"/>
<path d="M1348.5 152V155"/>
<rect x="1345.5" y="143.5" width="7" height="8" stroke="#5e616c"/>
<path d="M1359.5 118V124"/>
<rect x="1356.5" y="124.5" width="7" height="20" stroke="#5e616c"/>
<path d="M1369.5 117V124"/>
<path d="M1369.5 126.2V135"/>
<rect x="1366" y="124" width="8" height="2.2" fill="#50535e" stroke="none" opacity="0.6"/>
<path d="M1379.5 113V117"/>
<path d="M1379.5 124V129"/>
<rect x="1376.5" y="117.5" width="7" height="6" stroke="#5e616c"/>
<path d="M1389.5 110V117"/>
<path d="M1389.5 119.8V123"/>
<rect x="1386" y="117" width="8" height="2.8" fill="#50535e" stroke="none"/>
<path d="M1399.5 90V103"/>
<rect x="1396.5" y="103.5" width="7" height="15" stroke="#5e616c"/>
<path d="M1409.5 92V101"/>
<path d="M1409.5 105V106"/>
<rect x="1406" y="101" width="8" height="4" fill="#50535e" stroke="none"/>
<path d="M1419.5 97V104"/>
<path d="M1419.5 109V110"/>
<rect x="1416" y="104" width="8" height="5" fill="#50535e" stroke="none"/>
<path d="M1429.5 95V103"/>
<path d="M1429.5 109V113"/>
<rect x="1426.5" y="103.5" width="7" height="5" stroke="#5e616c"/>
<path d="M1439.5 99V103"/>
<rect x="1436" y="103" width="8" height="11" fill="#50535e" stroke="none"/>
<path d="M1449.5 117V136"/>
<rect x="1446" y="112" width="8" height="5" fill="#50535e" stroke="none"/>
<path d="M1459.5 99V101"/>
<path d="M1459.5 117V119"/>
<rect x="1456.5" y="101.5" width="7" height="15" stroke="#5e616c"/>
<path d="M1469.5 98V100"/>
<path d="M1469.5 116V118"/>
<rect x="1466" y="100" width="8" height="16" fill="#50535e" stroke="none"/>
<path d="M1479.5 106V110.6"/>
<path d="M1479.5 113.4V116"/>
<rect x="1476.5" y="111.1" width="7" height="1.8" stroke="#5e616c"/>
<path d="M1489.5 101V105"/>
<path d="M1489.5 109V117"/>
<rect x="1486.5" y="105.5" width="7" height="3" stroke="#5e616c"/>
<path d="M1499.5 101V104.4"/>
<path d="M1499.5 106.2V117"/>
<rect x="1496" y="104.4" width="8" height="1.8" fill="#50535e" stroke="none"/>
<path d="M1509.5 103V104"/>
<path d="M1509.5 114V118"/>
<rect x="1506" y="104" width="8" height="10" fill="#50535e" stroke="none"/>
<path d="M1520.5 112V115"/>
<path d="M1520.5 124V127"/>
<rect x="1517" y="115" width="8" height="9" fill="#50535e" stroke="none"/>
<path d="M1530.5 118V120"/>
<path d="M1530.5 123V127"/>
<rect x="1527.5" y="120.5" width="7" height="2" stroke="#5e616c"/>
<path d="M1540.5 112V116.6"/>
<path d="M1540.5 118.6V124"/>
<rect x="1537" y="116.6" width="8" height="2" fill="#50535e" stroke="none" opacity="0.6"/>
<path d="M1550.5 99V100"/>
<path d="M1550.5 118V121"/>
<rect x="1547.5" y="100.5" width="7" height="17" stroke="#5e616c"/>
<path d="M1560.5 91V100"/>
<path d="M1560.5 111V114"/>
<rect x="1557" y="100" width="8" height="11" fill="#50535e" stroke="none"/>
<path d="M1570.5 104V112"/>
<path d="M1570.5 113.6V118"/>
<rect x="1567" y="112" width="8" height="1.6" fill="#50535e" stroke="none"/>
<path d="M1580.5 133V134"/>
<rect x="1577" y="113" width="8" height="20" fill="#50535e" stroke="none"/>
<path d="M1590.5 130V132"/>
<path d="M1590.5 145V149"/>
<rect x="1587" y="132" width="8" height="13" fill="#50535e" stroke="none"/>
<path d="M1600.5 138V143"/>
<path d="M1600.5 167V173"/>
<rect x="1597" y="143" width="8" height="24" fill="#50535e" stroke="none"/>
<path d="M1610.5 166V167"/>
<path d="M1610.5 172V186"/>
<rect x="1607" y="167" width="8" height="5" fill="#50535e" stroke="none"/>
<path d="M1620.5 124V126"/>
<path d="M1620.5 173V190"/>
<rect x="1617.5" y="126.5" width="7" height="46" stroke="#5e616c"/>
<path d="M1630.5 112V121"/>
<path d="M1630.5 128V149"/>
<rect x="1627.5" y="121.5" width="7" height="6" stroke="#5e616c"/>
<path d="M1640.5 89V93"/>
<path d="M1640.5 123V125"/>
<rect x="1637.5" y="93.5" width="7" height="29" stroke="#5e616c"/>
<path d="M1650.5 76V82"/>
<rect x="1647.5" y="82.5" width="7" height="10" stroke="#5e616c"/>
<path d="M1660.5 82V87"/>
<rect x="1657.5" y="52.5" width="7" height="29" stroke="#5e616c"/>
<path d="M1670.5 99V108"/>
<path d="M1670.5 133V145"/>
<rect x="1667" y="108" width="8" height="25" fill="#50535e" stroke="none"/>
<path d="M1681.5 104V108"/>
<path d="M1681.5 135V136"/>
<rect x="1678.5" y="108.5" width="7" height="26" stroke="#5e616c"/>
<path d="M1691.5 89V101"/>
<path d="M1691.5 106V126"/>
<rect x="1688.5" y="101.5" width="7" height="4" stroke="#5e616c"/>
<path d="M1701.5 97V101"/>
<path d="M1701.5 106V118"/>
<rect x="1698" y="101" width="8" height="5" fill="#50535e" stroke="none"/>
<path d="M1711.5 130V144"/>
<rect x="1708" y="104" width="8" height="26" fill="#50535e" stroke="none"/>
<rect x="1718.5" y="93.5" width="7" height="36"/>
</g>
<circle cx="856.2" cy="346.6" r="3.3" fill="#fff" stroke="#f23645" stroke-width="1.9"/>
<circle cx="1631.4" cy="160.2" r="3.3" fill="#fff" stroke="#f23645" stroke-width="1.9"/>
<rect x="-4" y="728.5" width="9" height="2.9" fill="#b3b6be"/>
<rect x="6" y="728.5" width="9" height="4.9" fill="#b3b6be"/>
<rect x="16" y="728.5" width="9" height="4.7" fill="#b3b6be"/>
<rect x="26" y="728.5" width="9" height="4.7" fill="#b3b6be"/>
<rect x="36" y="719" width="9" height="9.5" fill="#d2d5da"/>
<rect x="47" y="710" width="9" height="18.5" fill="#d2d5da"/>
<rect x="57" y="707.4" width="9" height="21.1" fill="#d2d5da"/>
<rect x="67" y="709" width="9" height="19.5" fill="#b3b6be"/>
<rect x="77" y="712" width="9" height="16.5" fill="#b3b6be"/>
<rect x="87" y="711" width="9" height="17.5" fill="#d2d5da"/>
<rect x="97" y="714.4" width="9" height="14.1" fill="#b3b6be"/>
<rect x="107" y="721" width="9" height="7.5" fill="#b3b6be"/>
<rect x="117" y="726" width="9" height="2.5" fill="#b3b6be"/>
<rect x="127" y="728.5" width="9" height="3.9" fill="#b3b6be"/>
<rect x="137" y="728.5" width="9" height="10.1" fill="#b3b6be"/>
<rect x="147" y="728.5" width="9" height="13.1" fill="#b3b6be"/>
<rect x="157" y="728.5" width="9" height="14.7" fill="#b3b6be"/>
<rect x="167" y="728.5" width="9" height="14.5" fill="#d2d5da"/>
<rect x="177" y="728.5" width="9" height="13.9" fill="#d2d5da"/>
<rect x="187" y="728.5" width="9" height="13.7" fill="#b3b6be"/>
<rect x="197" y="728.5" width="9" height="15.5" fill="#b3b6be"/>
<rect x="208" y="728.5" width="9" height="17.3" fill="#b3b6be"/>
<rect x="218" y="728.5" width="9" height="18.1" fill="#b3b6be"/>
<rect x="228" y="728.5" width="9" height="17.1" fill="#d2d5da"/>
<rect x="238" y="728.5" width="9" height="17.3" fill="#b3b6be"/>
<rect x="248" y="728.5" width="9" height="15.5" fill="#d2d5da"/>
<rect x="258" y="728.5" width="9" height="11.9" fill="#d2d5da"/>
<rect x="268" y="728.5" width="9" height="12.9" fill="#b3b6be"/>
<rect x="278" y="728.5" width="9" height="12.1" fill="#d2d5da"/>
<rect x="288" y="728.5" width="9" height="11.1" fill="#d2d5da"/>
<rect x="298" y="728.5" width="9" height="10.1" fill="#d2d5da"/>
<rect x="308" y="728.5" width="9" height="11.1" fill="#b3b6be"/>
<rect x="318" y="728.5" width="9" height="7.1" fill="#d2d5da"/>
<rect x="328" y="728.5" width="9" height="5.5" fill="#d2d5da"/>
<rect x="338" y="728.5" width="9" height="4.5" fill="#d2d5da"/>
<rect x="348" y="728.5" width="9" height="3.5" fill="#d2d5da"/>
<rect x="358" y="728.5" width="9" height="0.9" fill="#d2d5da"/>
<rect x="368" y="727.2" width="9" height="1.3" fill="#d2d5da"/>
<rect x="379" y="724.8" width="9" height="3.7" fill="#d2d5da"/>
<rect x="389" y="724" width="9" height="4.5" fill="#d2d5da"/>
<rect x="399" y="722.8" width="9" height="5.7" fill="#d2d5da"/>
<rect x="409" y="724" width="9" height="4.5" fill="#b3b6be"/>
<rect x="419" y="728.5" width="9" height="0.9" fill="#b3b6be"/>
<rect x="429" y="728.5" width="9" height="3.7" fill="#b3b6be"/>
<rect x="439" y="728.5" width="9" height="0.7" fill="#d2d5da"/>
<rect x="459" y="728.5" width="9" height="2.9" fill="#b3b6be"/>
<rect x="469" y="728.5" width="9" height="2.9" fill="#b3b6be"/>
<rect x="479" y="728.5" width="9" height="3.7" fill="#b3b6be"/>
<rect x="489" y="728.5" width="9" height="4.7" fill="#b3b6be"/>
<rect x="499" y="728.5" width="9" height="2.5" fill="#d2d5da"/>
<rect x="509" y="728.5" width="9" height="4.7" fill="#b3b6be"/>
<rect x="519" y="728.5" width="9" height="5.3" fill="#b3b6be"/>
<rect x="529" y="728.5" width="9" height="3.7" fill="#d2d5da"/>
<rect x="540" y="728.5" width="9" height="1.5" fill="#d2d5da"/>
<rect x="550" y="728.5" width="9" height="0.3" fill="#d2d5da"/>
<rect x="560" y="725.6" width="9" height="2.9" fill="#d2d5da"/>
<rect x="570" y="724.6" width="9" height="3.9" fill="#d2d5da"/>
<rect x="580" y="724" width="9" height="4.5" fill="#d2d5da"/>
<rect x="590" y="725.6" width="9" height="2.9" fill="#b3b6be"/>
<rect x="600" y="727.4" width="9" height="1.1" fill="#b3b6be"/>
<rect x="610" y="728.5" width="9" height="1.9" fill="#b3b6be"/>
<rect x="620" y="728.5" width="9" height="3.7" fill="#b3b6be"/>
<rect x="630" y="728.5" width="9" height="1.5" fill="#d2d5da"/>
<rect x="640" y="728.5" width="9" height="0.5" fill="#d2d5da"/>
<rect x="650" y="727.6" width="9" height="0.9" fill="#d2d5da"/>
<rect x="660" y="727.6" width="9" height="0.9" fill="#b3b6be"/>
<rect x="670" y="726.6" width="9" height="1.9" fill="#d2d5da"/>
<rect x="680" y="724" width="9" height="4.5" fill="#d2d5da"/>
<rect x="690" y="722" width="9" height="6.5" fill="#d2d5da"/>
<rect x="701" y="721.2" width="9" height="7.3" fill="#d2d5da"/>
<rect x="711" y="720.4" width="9" height="8.1" fill="#d2d5da"/>
<rect x="721" y="721.2" width="9" height="7.3" fill="#b3b6be"/>
<rect x="731" y="722.2" width="9" height="6.3" fill="#b3b6be"/>
<rect x="741" y="722.2" width="9" height="6.3" fill="#b3b6be"/>
<rect x="751" y="723" width="9" height="5.5" fill="#b3b6be"/>
<rect x="761" y="722" width="9" height="6.5" fill="#d2d5da"/>
<rect x="771" y="722.2" width="9" height="6.3" fill="#b3b6be"/>
<rect x="781" y="720.4" width="9" height="8.1" fill="#d2d5da"/>
<rect x="791" y="718.4" width="9" height="10.1" fill="#d2d5da"/>
<rect x="801" y="719.2" width="9" height="9.3" fill="#b3b6be"/>
<rect x="811" y="715.6" width="9" height="12.9" fill="#d2d5da"/>
<rect x="821" y="713.8" width="9" height="14.7" fill="#d2d5da"/>
<rect x="831" y="712.2" width="9" height="16.3" fill="#d2d5da"/>
<rect x="841" y="711.2" width="9" height="17.3" fill="#d2d5da"/>
<rect x="851" y="708.4" width="9" height="20.1" fill="#d2d5da"/>
<rect x="862" y="707.4" width="9" height="21.1" fill="#d2d5da"/>
<rect x="872" y="706.4" width="9" height="22.1" fill="#d2d5da"/>
<rect x="882" y="705.6" width="9" height="22.9" fill="#d2d5da"/>
<rect x="892" y="705.6" width="9" height="22.9" fill="#b3b6be"/>
<rect x="902" y="705.6" width="9" height="22.9" fill="#b3b6be"/>
<rect x="912" y="705.6" width="9" height="22.9" fill="#d2d5da"/>
<rect x="922" y="706.4" width="9" height="22.1" fill="#b3b6be"/>
<rect x="932" y="710.2" width="9" height="18.3" fill="#b3b6be"/>
<rect x="942" y="714.8" width="9" height="13.7" fill="#b3b6be"/>
<rect x="952" y="718.2" width="9" height="10.3" fill="#b3b6be"/>
<rect x="962" y="721.2" width="9" height="7.3" fill="#b3b6be"/>
<rect x="972" y="722" width="9" height="6.5" fill="#b3b6be"/>
<rect x="982" y="724" width="9" height="4.5" fill="#b3b6be"/>
<rect x="992" y="727.4" width="9" height="1.1" fill="#b3b6be"/>
<rect x="1002" y="728.5" width="9" height="1.9" fill="#b3b6be"/>
<rect x="1012" y="728.5" width="9" height="5.5" fill="#b3b6be"/>
<rect x="1023" y="728.5" width="9" height="9.1" fill="#b3b6be"/>
<rect x="1033" y="728.5" width="9" height="10.9" fill="#b3b6be"/>
<rect x="1043" y="728.5" width="9" height="10.9" fill="#b3b6be"/>
<rect x="1053" y="728.5" width="9" height="10.9" fill="#d2d5da"/>
<rect x="1063" y="728.5" width="9" height="11.9" fill="#b3b6be"/>
<rect x="1073" y="728.5" width="9" height="12.9" fill="#b3b6be"/>
<rect x="1083" y="728.5" width="9" height="12.9" fill="#b3b6be"/>
<rect x="1093" y="728.5" width="9" height="13.7" fill="#b3b6be"/>
<rect x="1103" y="728.5" width="9" height="16.3" fill="#b3b6be"/>
<rect x="1113" y="728.5" width="9" height="18.3" fill="#b3b6be"/>
<rect x="1123" y="728.5" width="9" height="16.3" fill="#d2d5da"/>
<rect x="1133" y="728.5" width="9" height="13.7" fill="#d2d5da"/>
<rect x="1143" y="728.5" width="9" height="10.1" fill="#d2d5da"/>
<rect x="1153" y="728.5" width="9" height="6.3" fill="#d2d5da"/>
<rect x="1163" y="728.5" width="9" height="3.7" fill="#d2d5da"/>
<rect x="1173" y="728.5" width="9" height="1.7" fill="#d2d5da"/>
<rect x="1183" y="727.6" width="9" height="0.9" fill="#d2d5da"/>
<rect x="1194" y="727.8" width="9" height="0.7" fill="#d2d5da"/>
<rect x="1204" y="727.8" width="9" height="0.7" fill="#b3b6be"/>
<rect x="1214" y="728.5" width="9" height="0.3" fill="#b3b6be"/>
<rect x="1224" y="728.5" width="9" height="0.9" fill="#b3b6be"/>
<rect x="1234" y="728.5" width="9" height="0.9" fill="#b3b6be"/>
<rect x="1244" y="728.5" width="9" height="1.9" fill="#b3b6be"/>
<rect x="1254" y="728.5" width="9" height="3.7" fill="#b3b6be"/>
<rect x="1264" y="728.5" width="9" height="4.5" fill="#b3b6be"/>
<rect x="1274" y="728.5" width="9" height="5.5" fill="#b3b6be"/>
<rect x="1284" y="728.5" width="9" height="5.3" fill="#d2d5da"/>
<rect x="1294" y="728.5" width="9" height="6.3" fill="#b3b6be"/>
<rect x="1304" y="728.5" width="9" height="7.3" fill="#b3b6be"/>
<rect x="1314" y="728.5" width="9" height="5.5" fill="#d2d5da"/>
<rect x="1324" y="728.5" width="9" height="6.5" fill="#b3b6be"/>
<rect x="1334" y="728.5" width="9" height="5.5" fill="#d2d5da"/>
<rect x="1344" y="728.5" width="9" height="3.7" fill="#d2d5da"/>
<rect x="1355" y="728.5" width="9" height="1.9" fill="#d2d5da"/>
<rect x="1365" y="728.5" width="9" height="0.9" fill="#d2d5da"/>
<rect x="1375" y="728.5" width="9" height="0.3" fill="#d2d5da"/>
<rect x="1385" y="728" width="9" height="0.5" fill="#d2d5da"/>
<rect x="1395" y="727.6" width="9" height="0.9" fill="#d2d5da"/>
<rect x="1405" y="726.6" width="9" height="1.9" fill="#d2d5da"/>
<rect x="1415" y="726.2" width="9" height="2.3" fill="#b3b6be"/>
<rect x="1425" y="727.2" width="9" height="1.3" fill="#d2d5da"/>
<rect x="1435" y="728" width="9" height="0.5" fill="#b3b6be"/>
<rect x="1445" y="728.5" width="9" height="0.7" fill="#b3b6be"/>
<rect x="1455" y="728.5" width="9" height="0.3" fill="#d2d5da"/>
<rect x="1465" y="728.5" width="9" height="0.7" fill="#b3b6be"/>
<rect x="1475" y="728.5" width="9" height="1.9" fill="#d2d5da"/>
<rect x="1485" y="728.5" width="9" height="1.9" fill="#d2d5da"/>
<rect x="1495" y="728.5" width="9" height="1.9" fill="#b3b6be"/>
<rect x="1505" y="728.5" width="9" height="1.9" fill="#b3b6be"/>
<rect x="1516" y="728.5" width="9" height="3.9" fill="#b3b6be"/>
<rect x="1526" y="728.5" width="9" height="3.9" fill="#b3b6be"/>
<rect x="1536" y="728.5" width="9" height="3.9" fill="#d2d5da"/>
<rect x="1546" y="728.5" width="9" height="2.9" fill="#d2d5da"/>
<rect x="1556" y="728.5" width="9" height="2.9" fill="#d2d5da"/>
<rect x="1566" y="728.5" width="9" height="2.9" fill="#b3b6be"/>
<rect x="1576" y="728.5" width="9" height="3.9" fill="#b3b6be"/>
<rect x="1586" y="728.5" width="9" height="5.5" fill="#b3b6be"/>
<rect x="1596" y="728.5" width="9" height="7.3" fill="#b3b6be"/>
<rect x="1606" y="728.5" width="9" height="8.3" fill="#b3b6be"/>
<rect x="1616" y="728.5" width="9" height="6.1" fill="#d2d5da"/>
<rect x="1626" y="728.5" width="9" height="3.7" fill="#d2d5da"/>
<rect x="1636" y="728.5" width="9" height="1.1" fill="#d2d5da"/>
<rect x="1646" y="726" width="9" height="2.5" fill="#d2d5da"/>
<rect x="1656" y="724.4" width="9" height="4.1" fill="#d2d5da"/>
<rect x="1666" y="726.2" width="9" height="2.3" fill="#b3b6be"/>
<rect x="1677" y="727.3" width="9" height="1.2" fill="#b3b6be"/>
<rect x="1687" y="727.3" width="9" height="1.2" fill="#b3b6be"/>
<rect x="1697" y="727.3" width="9" height="1.2" fill="#b3b6be"/>
<rect x="1707" y="728.5" width="9" height="0.9" fill="#b3b6be"/>
<path d="M0 728.5 H1721" stroke="#9497a1" stroke-width="1" stroke-dasharray="4.4 5.5" stroke-dashoffset="-2" fill="none"/>
<polyline fill="none" stroke="#9598a1" stroke-width="1" stroke-linejoin="round" points="0,718.5 30.3,721.8 40.4,719.1 51.2,714.2 60.6,709.4 71.4,704.3 80.8,700 90.2,696.2 101,693.3 111.8,691.3 121.2,690.6 130.6,691.5 140,693.5 150.8,696.6 161.6,700.3 171,703.6 181.8,707.3 191.2,711 202,714.8 211.4,718.5 222.2,723.2 231.6,726.8 242.1,731.9 250.2,735 261,738.4 270.4,740.8 281.2,743.8 292,746.7 302.7,749.4 312.2,751.4 322.9,752.9 332.4,754.3 343.1,755.5 352.6,756.3 362,756.3 371.4,755.6 382.2,754.5 393,753.2 402.4,751.9 413.2,750.9 421.2,751.2 432,751.9 441.4,752.1 452.2,752.3 461.7,752.7 473.5,753.5 493.7,755.5 513.9,757.6 534.1,759.3 554.3,759.3 574.5,757.5 594.7,755.2 605.4,754.5 624.3,756.3 644.5,756.6 664.7,755.9 675.5,754.9 686.3,753.5 695,752.2 711.6,749.6 733.1,745.6 754.7,742.7 776.2,739.1 790.6,735.6 805,732.4 815.1,729.1 825.1,725.5 835.2,721.9 845.2,717.6 855.3,712.6 865.4,707.1 875.4,701.5 885.5,695.3 895.5,689.6 905.6,683.8 915.7,678.3 927.6,671.6 935.1,667.7 946.1,664 955.8,661.5 966.1,659.6 975.7,658.2 986,657.1 995.7,656.7 1006,657.1 1016.3,658.5 1025.9,660.6 1036.2,663.3 1046.5,665.7 1056.2,668.1 1066.5,670.6 1076.8,673.6 1087.1,676.7 1097.4,680.5 1107.1,684.6 1117.4,689.2 1127,693.2 1137.3,696.1 1147,698.1 1163.5,700.5 1176.9,701.5 1187.7,700.6 1198.5,700.2 1210.6,700.2 1224.1,700.9 1241.6,700.9 1252.4,701.5 1264.5,702.9 1277.9,704.6 1291.4,706.3 1308.9,708.7 1318.4,710.3 1329.1,711.9 1338.6,713 1349.3,713.7 1360.1,714.3 1372.2,714.3 1390.8,713.2 1404.2,712.3 1417.7,711.9 1429.8,711.4 1440.6,711.9 1460.8,712.3 1481,713 1501.2,713.4 1514.7,714.3 1528.1,715.3 1538.9,716 1555.1,716.8 1568.5,717.4 1579.3,718.4 1590.1,719.5 1600.2,721.3 1609.6,723.3 1621.4,724.7 1630.8,725.5 1641.1,725.5 1651.3,725 1660.7,724 1670.9,723.2 1680.3,722.8 1690.5,722.5 1700,722.4 1710.2,722.9 1720.8,722.9"/>
<polyline fill="none" stroke="#9598a1" stroke-width="1" stroke-linejoin="round" points="0,721.8 30.3,726.5 35,717.8 40.4,708.4 48.5,699 60.6,689.2 71.4,685.9 80.8,683.9 90.2,679.4 101,679.1 111.8,684.5 121.2,688.8 130.6,694.9 140,703 150.8,709 161.6,714.2 171,717.1 181.8,719.8 191.2,723.2 202,729.2 211.4,734 222.2,739.3 231.6,743.4 242.1,748.2 250.2,749.4 261,748.8 270.4,751.9 281.2,755 292,757.2 302.7,759.5 312.2,761.5 322.9,759.9 332.4,759.3 343.1,759.5 352.6,759.9 362,756.6 371.4,754.5 382.2,751.2 393,748.8 402.4,746.2 413.2,746.5 421.2,750.9 432,755.2 441.4,752.9 452.2,752.9 461.7,754.5 473.5,755.9 484.2,758.2 493.7,759.5 503.1,758.3 513.9,760.9 524,762.9 534.1,762.2 543.5,760.9 554.3,759.3 563.7,755.6 574.5,752.9 583.9,751.2 594.7,751.9 604.1,753.9 614.9,757.6 624.3,759.7 635.1,758.2 644.5,756.8 655.3,754.8 664.7,755.2 675.5,752.5 686.3,748.5 695,745.6 702.9,743.5 714.4,740.6 733.1,738.9 754.7,736.3 774.8,732.7 784.9,728.4 794.9,724.5 805,723.3 815.1,716.2 825.1,710.4 835.2,705.4 845.2,699.6 855.3,692.4 865.4,686 875.4,679.5 885.5,672.3 895.5,667.3 905.6,661.5 915.7,655.8 925.5,650.4 935.1,649.6 946.1,650.3 955.8,651.6 966.1,652.3 975.7,651.4 986,652.7 995.7,655.3 1006,658.2 1016.3,663.3 1025.9,668.8 1036.2,673.4 1046.5,675.7 1056.2,678.2 1066.5,682.2 1076.8,686 1087.1,689.5 1097.4,694.3 1107.1,699.8 1117.4,706 1127,709 1137.3,709 1147,707.3 1163.5,705.6 1176.9,703.2 1187.7,700.9 1198.5,699.5 1210.6,700.2 1224.1,701.3 1241.6,701.5 1252.4,704.2 1264.5,706.9 1277.9,710.3 1291.4,712.3 1308.9,715.4 1318.4,716.1 1329.1,717.4 1338.6,717.7 1349.3,717 1360.1,715.3 1372.2,714.3 1390.8,713 1404.2,711.4 1417.7,710.7 1429.8,710.7 1440.6,711.9 1460.8,712.6 1481,713.9 1501.2,714.7 1514.7,716.6 1528.1,718.4 1538.9,719.3 1555.1,718.8 1568.5,720 1579.3,722 1590.1,724 1600.2,727.9 1609.6,731 1621.4,730.2 1630.8,729.1 1641.1,725.9 1651.3,722.8 1660.7,719.1 1670.9,721.4 1680.3,721.8 1690.5,721.6 1700,722 1710.2,723.4 1720.8,722.8"/>
</g>
<rect x="0" y="635" width="1782" height="1" fill="#e0e3eb"/>
<path d="M0 797.5 Q0.5 799.5 3 799.5 H1782" stroke="#76777a" stroke-width="1.2" fill="none"/>
<g font-family="'Liberation Sans', Arial, sans-serif" fill="#131722" font-size="12">
<text x="1729.5" y="25.9" textLength="45.8" lengthAdjust="spacingAndGlyphs">6,430.00</text>
<text x="1729.5" y="56.7" textLength="45.8" lengthAdjust="spacingAndGlyphs">6,425.00</text>
<text x="1729.5" y="106.8" textLength="45.8" lengthAdjust="spacingAndGlyphs">6,417.00</text>
<text x="1729.5" y="154.6" textLength="45.8" lengthAdjust="spacingAndGlyphs">6,409.00</text>
<text x="1729.5" y="204.3" textLength="45.8" lengthAdjust="spacingAndGlyphs">6,401.00</text>
<text x="1729.5" y="253.7" textLength="45.8" lengthAdjust="spacingAndGlyphs">6,393.00</text>
<text x="1729.5" y="303.1" textLength="45.8" lengthAdjust="spacingAndGlyphs">6,385.00</text>
<text x="1729.5" y="334.3" textLength="45.8" lengthAdjust="spacingAndGlyphs">6,380.00</text>
<text x="1729.5" y="364.9" textLength="45.8" lengthAdjust="spacingAndGlyphs">6,375.00</text>
<text x="1729.5" y="402.4" textLength="45.8" lengthAdjust="spacingAndGlyphs">6,369.00</text>
<text x="1729.5" y="439.9" textLength="45.8" lengthAdjust="spacingAndGlyphs">6,363.00</text>
<text x="1729.5" y="476.7" textLength="45.8" lengthAdjust="spacingAndGlyphs">6,357.00</text>
<text x="1729.5" y="513.8" textLength="45.8" lengthAdjust="spacingAndGlyphs">6,351.00</text>
<text x="1729.5" y="544.9" textLength="45.8" lengthAdjust="spacingAndGlyphs">6,346.00</text>
<text x="1729.5" y="576" textLength="45.8" lengthAdjust="spacingAndGlyphs">6,341.00</text>
<text x="1729.5" y="604.2" textLength="45.8" lengthAdjust="spacingAndGlyphs">6,336.50</text>
<text x="1729.5" y="632.8" textLength="45.8" lengthAdjust="spacingAndGlyphs">6,332.00</text>
<text x="1729.5" y="651.7" textLength="28.5" lengthAdjust="spacingAndGlyphs">15.00</text>
<text x="1729.5" y="705.7" textLength="22" lengthAdjust="spacingAndGlyphs">5.00</text>
<text x="1729.5" y="759.7" textLength="29.5" lengthAdjust="spacingAndGlyphs">−5.00</text>
<text x="40.96" y="792.7" text-anchor="middle">7</text>
<text x="101.33" y="792.7" text-anchor="middle" textLength="29.2" lengthAdjust="spacingAndGlyphs">07:00</text>
<text x="161.7" y="792.7" text-anchor="middle" textLength="29.2" lengthAdjust="spacingAndGlyphs">07:30</text>
<text x="222.07" y="792.7" text-anchor="middle" textLength="29.2" lengthAdjust="spacingAndGlyphs">08:00</text>
<text x="282.44" y="792.7" text-anchor="middle" textLength="29.2" lengthAdjust="spacingAndGlyphs">08:30</text>
<text x="342.81" y="792.7" text-anchor="middle" textLength="29.2" lengthAdjust="spacingAndGlyphs">09:00</text>
<text x="403.18" y="792.7" text-anchor="middle" textLength="29.2" lengthAdjust="spacingAndGlyphs">09:30</text>
<text x="463.55" y="792.7" text-anchor="middle" textLength="29.2" lengthAdjust="spacingAndGlyphs">10:00</text>
<text x="523.92" y="792.7" text-anchor="middle" textLength="29.2" lengthAdjust="spacingAndGlyphs">10:30</text>
<text x="584.29" y="792.7" text-anchor="middle" textLength="29.2" lengthAdjust="spacingAndGlyphs">11:00</text>
<text x="644.66" y="792.7" text-anchor="middle" textLength="29.2" lengthAdjust="spacingAndGlyphs">11:30</text>
<text x="705.03" y="792.7" text-anchor="middle" textLength="29.2" lengthAdjust="spacingAndGlyphs">12:00</text>
<text x="765.4" y="792.7" text-anchor="middle" textLength="29.2" lengthAdjust="spacingAndGlyphs">12:30</text>
<text x="855.96" y="792.7" text-anchor="middle">8</text>
<text x="916.33" y="792.7" text-anchor="middle" textLength="29.2" lengthAdjust="spacingAndGlyphs">07:00</text>
<text x="976.7" y="792.7" text-anchor="middle" textLength="29.2" lengthAdjust="spacingAndGlyphs">07:30</text>
<text x="1037.07" y="792.7" text-anchor="middle" textLength="29.2" lengthAdjust="spacingAndGlyphs">08:00</text>
<text x="1097.44" y="792.7" text-anchor="middle" textLength="29.2" lengthAdjust="spacingAndGlyphs">08:30</text>
<text x="1157.81" y="792.7" text-anchor="middle" textLength="29.2" lengthAdjust="spacingAndGlyphs">09:00</text>
<text x="1218.18" y="792.7" text-anchor="middle" textLength="29.2" lengthAdjust="spacingAndGlyphs">09:30</text>
<text x="1278.55" y="792.7" text-anchor="middle" textLength="29.2" lengthAdjust="spacingAndGlyphs">10:00</text>
<text x="1338.92" y="792.7" text-anchor="middle" textLength="29.2" lengthAdjust="spacingAndGlyphs">10:30</text>
<text x="1399.29" y="792.7" text-anchor="middle" textLength="29.2" lengthAdjust="spacingAndGlyphs">11:00</text>
<text x="1459.66" y="792.7" text-anchor="middle" textLength="29.2" lengthAdjust="spacingAndGlyphs">11:30</text>
<text x="1520.03" y="792.7" text-anchor="middle" textLength="29.2" lengthAdjust="spacingAndGlyphs">12:00</text>
<text x="1580.4" y="792.7" text-anchor="middle" textLength="29.2" lengthAdjust="spacingAndGlyphs">12:30</text>
<text x="1670.96" y="792.7" text-anchor="middle" font-weight="bold">11</text>
<text x="7.3" y="16" font-size="14" textLength="89.9" lengthAdjust="spacingAndGlyphs">ES1! · 5 · CME</text>
<text x="104.7" y="15.2" textLength="7.3" lengthAdjust="spacingAndGlyphs">O</text>
<text x="113.6" y="15.2" fill="#5d606b" textLength="50.5" lengthAdjust="spacingAndGlyphs">6,472.00</text>
<text x="171.2" y="15.2" textLength="6.7" lengthAdjust="spacingAndGlyphs">H</text>
<text x="179.6" y="15.2" fill="#5d606b" textLength="50" lengthAdjust="spacingAndGlyphs">6,474.75</text>
<text x="236.5" y="15.2" textLength="5.2" lengthAdjust="spacingAndGlyphs">L</text>
<text x="242.7" y="15.2" fill="#5d606b" textLength="50.5" lengthAdjust="spacingAndGlyphs">6,470.75</text>
<text x="299.7" y="15.2" textLength="7.3" lengthAdjust="spacingAndGlyphs">C</text>
<text x="308.6" y="15.2" fill="#5d606b" textLength="50" lengthAdjust="spacingAndGlyphs">6,474.75</text>
<text x="364.8" y="15.2" fill="#5d606b" textLength="87" lengthAdjust="spacingAndGlyphs">+2.75 (+0.04%)</text>
<rect x="6.9" y="24.9" width="28.4" height="17.4" rx="2.5" fill="#fff" stroke="#d1d4dc" stroke-width="1"/>
<path d="M11.4 32.3 L14.8 35.2 L18.2 32.3" fill="none" stroke="#131722" stroke-width="1.3" stroke-linecap="round" stroke-linejoin="round"/>
<text x="24.4" y="36.7" font-size="11">5</text>
</g>
<g fill="#131722"><path d="M9 749.15H20.25V762.1H14.25V754.25H9Z"/><circle cx="24.15" cy="751.7" r="2.75"/><path d="M29.85 749.15H35.6L30.6 762.1H24.2Z"/></g>
<g fill="none" stroke="#131722" stroke-width="1.1" stroke-linejoin="round"><path d="M1746.9 788.05L1750.2 782.3H1756.6L1759.9 788.05L1756.6 793.8H1750.2Z"/><circle cx="1753.4" cy="788.05" r="1.9"/></g>
</svg>
</body></html>
